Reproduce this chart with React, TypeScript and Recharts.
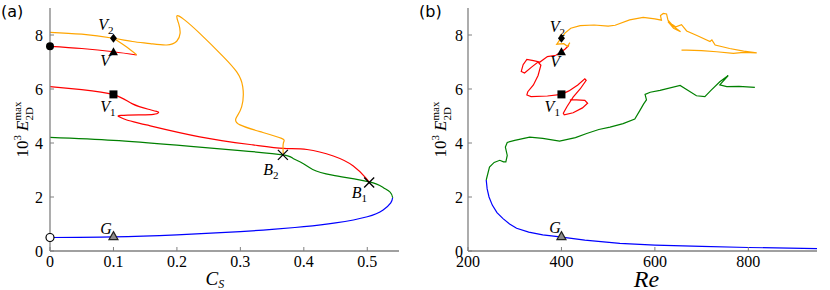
import React from 'react';
import { ComposedChart, Line, Scatter, XAxis, YAxis } from 'recharts';

type P = [number, number];

const SERIF = '"Liberation Serif", "DejaVu Serif", serif';
const AXIS = '#808080';

// tick labels
const xTicksA = [0, 0.1, 0.2, 0.3, 0.4, 0.5];
const xTicksB = [200, 400, 600, 800];
const yTicks = [0, 2, 4, 6, 8];

// ---- panel (a): branches vs C_S
const blueA: P[] = [
  [0, 0.5], [0.1, 0.52], [0.2, 0.6], [0.3, 0.72], [0.35, 0.8], [0.4, 0.9],
  [0.45, 1.04], [0.5, 1.27], [0.525, 1.52], [0.537, 1.78], [0.54, 1.98],
];
const greenA: P[] = [
  [0, 4.21], [0.1, 4.1], [0.2, 3.92], [0.3, 3.72], [0.367, 3.56], [0.383, 3.43],
  [0.398, 3.25], [0.414, 3.02], [0.445, 2.81], [0.503, 2.56], [0.525, 2.35],
  [0.536, 2.18], [0.54, 1.98],
];
const redTopA: P[] = [[0, 7.58], [0.05, 7.5], [0.1, 7.38], [0.1366, 7.26]];
const redA: P[] = [
  [0, 6.09], [0.05, 5.98], [0.1, 5.79], [0.13, 5.45], [0.155, 5.25], [0.168, 5.17],
  [0.171, 5.12], [0.163, 5.06], [0.14, 5.04], [0.112, 5.02], [0.109, 4.97],
  [0.121, 4.85], [0.152, 4.67], [0.236, 4.23], [0.32, 3.93], [0.368, 3.8],
  [0.405, 3.76], [0.4465, 3.52], [0.478, 3.15], [0.498, 2.7], [0.503, 2.54],
];
const orangeA: P[] = [
  [0, 8.1], [0.05, 8.03], [0.1, 7.88], [0.13, 7.76], [0.158, 7.68], [0.184, 7.63],
  [0.1997, 7.77], [0.205, 8.06], [0.203, 8.4], [0.2, 8.71], [0.212, 8.56],
  [0.236, 8.06], [0.273, 7.2], [0.294, 6.64], [0.3037, 6.09], [0.302, 5.34],
  [0.293, 4.91], [0.2995, 4.67], [0.331, 4.42], [0.365, 4.17], [0.3677, 3.99],
  [0.3677, 3.56],
];
const orangeWedgeA: P[] = [[0.1, 7.88], [0.118, 7.6], [0.1366, 7.27]];

const markersA = [
  { x: 0, y: 7.58, kind: 'dot' },
  { x: 0, y: 0.5, kind: 'ring' },
  { x: 0.1, y: 7.88, kind: 'diamond' },
  { x: 0.1, y: 7.38, kind: 'tri' },
  { x: 0.1, y: 5.8, kind: 'square' },
  { x: 0.1, y: 0.55, kind: 'triOpen' },
  { x: 0.367, y: 3.56, kind: 'cross' },
  { x: 0.503, y: 2.54, kind: 'cross' },
];
const labelsA = [
  { x: 0.076, y: 8.19, name: 'V', sub: '2' },
  { x: 0.079, y: 6.86, name: 'V', sub: '' },
  { x: 0.079, y: 5.16, name: 'V', sub: '1' },
  { x: 0.079, y: 0.63, name: 'G', sub: '' },
  { x: 0.336, y: 2.81, name: 'B', sub: '2' },
  { x: 0.4755, y: 1.96, name: 'B', sub: '1' },
];

// ---- panel (b): branches vs Re
const blueB: P[] = [
  [239, 2.63], [241, 2.3], [245, 2.0], [252, 1.7], [262, 1.42], [275, 1.2],
  [289, 1.0], [304, 0.84], [330, 0.7], [360, 0.6], [397, 0.52], [450, 0.4],
  [525, 0.28], [600, 0.22], [700, 0.17], [800, 0.13], [947, 0.09],
];
const greenB: P[] = [
  [239, 2.63], [246, 3.11], [256, 3.28], [268, 3.36], [276, 3.3], [281, 3.3],
  [284, 3.54], [280, 3.85], [284, 4.02], [300, 4.1], [332, 4.22], [360, 4.17],
  [396, 4.07], [430, 4.2], [454, 4.35], [480, 4.5], [504, 4.59], [532, 4.72],
  [557, 4.89], [568, 5.21], [576, 5.45], [582, 5.6], [579, 5.8], [590, 5.88],
  [611, 5.95], [654, 6.13], [689, 5.75], [707, 5.72], [720, 5.95], [739, 6.27],
  [757, 6.5], [739, 6.15], [754, 6.09], [780, 6.1], [814, 6.06],
];
const redB: P[] = [
  [416, 7.62], [408, 7.48], [400, 7.38], [388, 7.25], [370, 7.2], [354, 7.0],
  [340, 7.05], [326, 7.1], [318, 6.9], [314, 6.65], [321, 6.59], [336, 6.81],
  [350, 7.0], [356, 6.88], [350, 6.5], [340, 6.15], [328, 5.9], [326, 5.78],
  [335, 5.72], [370, 5.74], [400, 5.8], [416, 5.93], [435, 6.15], [450, 6.38],
  [453, 6.32], [440, 6.0], [425, 5.7], [412, 5.35], [404, 5.1], [406, 5.04],
  [425, 5.12], [445, 5.3], [456, 5.47], [450, 5.58], [432, 5.6], [418, 5.6],
];
const orangeB: P[] = [
  [418, 7.72], [413, 7.58], [405, 7.68], [390, 7.66], [395, 7.78], [400, 7.9],
  [408, 8.08], [420, 8.25], [440, 8.35], [470, 8.37], [500, 8.33], [515, 8.36],
  [546, 8.56], [575, 8.65], [600, 8.6], [614, 8.55], [612, 8.72], [618, 8.8],
  [625, 8.78], [628, 8.55], [640, 8.32], [655, 8.12], [640, 8.25], [628, 8.5],
  [645, 8.3], [657, 8.38], [668, 8.15], [690, 7.98], [718, 7.76], [722, 7.82],
  [729, 7.63], [760, 7.5], [790, 7.4], [818, 7.34], [790, 7.36], [768, 7.32],
  [732, 7.38], [700, 7.42], [668, 7.44], [657, 7.44],
];

const markersB = [
  { x: 400, y: 7.88, kind: 'diamond' },
  { x: 400, y: 7.38, kind: 'tri' },
  { x: 400, y: 5.8, kind: 'square' },
  { x: 400, y: 0.55, kind: 'triOpen' },
];
const labelsB = [
  { x: 375, y: 8.12, name: 'V', sub: '2' },
  { x: 376, y: 6.83, name: 'V', sub: '' },
  { x: 364, y: 5.16, name: 'V', sub: '1' },
  { x: 374, y: 0.66, name: 'G', sub: '' },
];

const pts = (a: P[]) => a.map(([x, y]) => ({ x, y }));

const Marker = (props: any) => {
  const { cx, cy, payload } = props;
  switch (payload.kind) {
    case 'dot':
      return <circle cx={cx} cy={cy} r={4} fill="#000" />;
    case 'ring':
      return <circle cx={cx} cy={cy} r={4} fill="#fff" stroke="#000" strokeWidth={1.2} />;
    case 'diamond':
      return <polygon points={`${cx},${cy - 4.5} ${cx + 3.5},${cy} ${cx},${cy + 4.5} ${cx - 3.5},${cy}`} fill="#000" />;
    case 'tri':
      return <polygon points={`${cx},${cy - 4.5} ${cx + 4.5},${cy + 3.5} ${cx - 4.5},${cy + 3.5}`} fill="#000" />;
    case 'triOpen':
      return <polygon points={`${cx},${cy - 4.5} ${cx + 4.5},${cy + 3.5} ${cx - 4.5},${cy + 3.5}`} fill="#8c8c8c" stroke="#222" strokeWidth={1.2} />;
    case 'square':
      return <rect x={cx - 4} y={cy - 4} width={8} height={8} fill="#000" />;
    case 'cross':
      return (
        <g stroke="#000" strokeWidth={1.3}>
          <line x1={cx - 5} y1={cy - 5} x2={cx + 5} y2={cy + 5} />
          <line x1={cx - 5} y1={cy + 5} x2={cx + 5} y2={cy - 5} />
        </g>
      );
    default:
      return null;
  }
};

const Tag = (props: any) => {
  const { cx, cy, payload } = props;
  return (
    <text x={cx} y={cy} fontFamily={SERIF} fontSize={16} fontStyle="italic" fill="#000">
      {payload.name}
      {payload.sub ? <tspan fontStyle="normal" fontSize={11} dy={4}>{payload.sub}</tspan> : null}
    </text>
  );
};

const YLabel = ({ viewBox }: any) => {
  const cx = viewBox.x + 18;
  const cy = viewBox.y + viewBox.height / 2;
  return (
    <text x={cx} y={cy} transform={`rotate(-90 ${cx} ${cy})`} textAnchor="middle" fontFamily={SERIF} fontSize={17} fill="#000">
      10
      <tspan dy={-7} fontSize={11}>3</tspan>
      <tspan dx={4} dy={7} fontStyle="italic">E</tspan>
      <tspan dy={-7} fontSize={11}>max</tspan>
      <tspan dx={-19} dy={12} fontSize={11}>2D</tspan>
    </text>
  );
};

const XLabelCs = ({ viewBox }: any) => (
  <text x={viewBox.x + viewBox.width / 2 - 19} y={viewBox.y + 34} fontFamily={SERIF} fontSize={19} fontStyle="italic" fill="#000">
    C<tspan fontSize={12} dy={3}>S</tspan>
  </text>
);

const XLabelRe = ({ viewBox }: any) => (
  <text x={viewBox.x + viewBox.width / 2 + 4} y={viewBox.y + 36} textAnchor="middle" fontFamily={SERIF} fontSize={24} fontStyle="italic" fill="#000">
    Re
  </text>
);

const tickStyle = { fontFamily: SERIF, fontSize: 16, fill: '#000' };

type Series = { data: P[]; color: string };

const Panel = (props: {
  xDomain: [number, number];
  xTicks: number[];
  series: Series[];
  markers: any[];
  labels: any[];
  xLabel: any;
  margin: { top: number; right: number; bottom: number; left: number };
  yTickMargin: number;
  curve: 'natural' | 'linear';
}) => (
  <ComposedChart width={415} height={290} margin={props.margin}>
    <XAxis
      type="number"
      dataKey="x"
      domain={props.xDomain}
      ticks={props.xTicks}
      interval={0}
      height={30}
      tickSize={-4}
      tickMargin={9}
      tick={tickStyle}
      axisLine={{ stroke: AXIS, strokeWidth: 1.3 }}
      tickLine={{ stroke: AXIS }}
      label={props.xLabel}
    />
    <XAxis
      xAxisId="top"
      orientation="top"
      type="number"
      dataKey="x"
      domain={props.xDomain}
      ticks={props.xTicks}
      interval={0}
      height={0}
      tickSize={-4}
      tick={false}
      allowDataOverflow
      axisLine={{ stroke: AXIS, strokeWidth: 1.3 }}
      tickLine={{ stroke: AXIS }}
    />
    <YAxis
      type="number"
      dataKey="y"
      domain={[0, 9]}
      ticks={yTicks}
      interval={0}
      width={40}
      tickSize={-4}
      tickMargin={props.yTickMargin}
      tick={tickStyle}
      axisLine={{ stroke: AXIS, strokeWidth: 1.3 }}
      tickLine={{ stroke: AXIS }}
      label={<YLabel />}
    />
    <YAxis
      yAxisId="right"
      orientation="right"
      type="number"
      domain={[0, 9]}
      ticks={yTicks}
      interval={0}
      width={0}
      tickSize={-4}
      tick={false}
      allowDataOverflow
      axisLine={{ stroke: AXIS, strokeWidth: 1.6 }}
      tickLine={{ stroke: AXIS }}
    />
    {props.series.map((s, i) => (
      <Line
        key={i}
        data={pts(s.data)}
        dataKey="y"
        type={props.curve}
        stroke={s.color}
        strokeWidth={1.2}
        dot={false}
        activeDot={false}
        isAnimationActive={false}
      />
    ))}
    <Scatter data={props.markers} dataKey="y" shape={(p: any) => <Marker {...p} />} isAnimationActive={false} />
    <Scatter data={props.labels} dataKey="y" shape={(p: any) => <Tag {...p} />} isAnimationActive={false} />
  </ComposedChart>
);

const ORANGE = '#FFA500';
const RED = '#FF0000';
const GREEN = '#008000';
const BLUE = '#0000FF';

export default function App() {
  return (
    <div style={{ position: 'absolute', left: 0, top: 0, width: 830, height: 290, background: '#fff' }}>
      <div style={{ position: 'absolute', left: 0, top: 0 }}>
        <Panel
          xDomain={[0, 0.55]}
          xTicks={xTicksA}
          series={[
            { data: blueA, color: BLUE },
            { data: greenA, color: GREEN },
            { data: redA, color: RED },
            { data: redTopA, color: RED },
            { data: orangeA, color: ORANGE },
            { data: orangeWedgeA, color: ORANGE },
          ]}
          markers={markersA}
          labels={labelsA}
          xLabel={<XLabelCs />}
          margin={{ top: 8, right: 16, bottom: 9, left: 10 }}
          yTickMargin={11}
          curve="natural"
        />
      </div>
      <div style={{ position: 'absolute', left: 415, top: 0 }}>
        <Panel
          xDomain={[200, 947]}
          xTicks={xTicksB}
          series={[
            { data: blueB, color: BLUE },
            { data: greenB, color: GREEN },
            { data: redB, color: RED },
            { data: orangeB, color: ORANGE },
          ]}
          markers={markersB}
          labels={labelsB}
          xLabel={<XLabelRe />}
          margin={{ top: 8, right: 13, bottom: 9, left: 13 }}
          yTickMargin={9}
          curve="linear"
        />
      </div>
      <div style={{ position: 'absolute', left: 1, top: 3, font: '16px "DejaVu Sans", sans-serif', lineHeight: '18px' }}>(a)</div>
      <div style={{ position: 'absolute', left: 419, top: 3, font: '16px "DejaVu Sans", sans-serif', lineHeight: '18px' }}>(b)</div>
    </div>
  );
}
